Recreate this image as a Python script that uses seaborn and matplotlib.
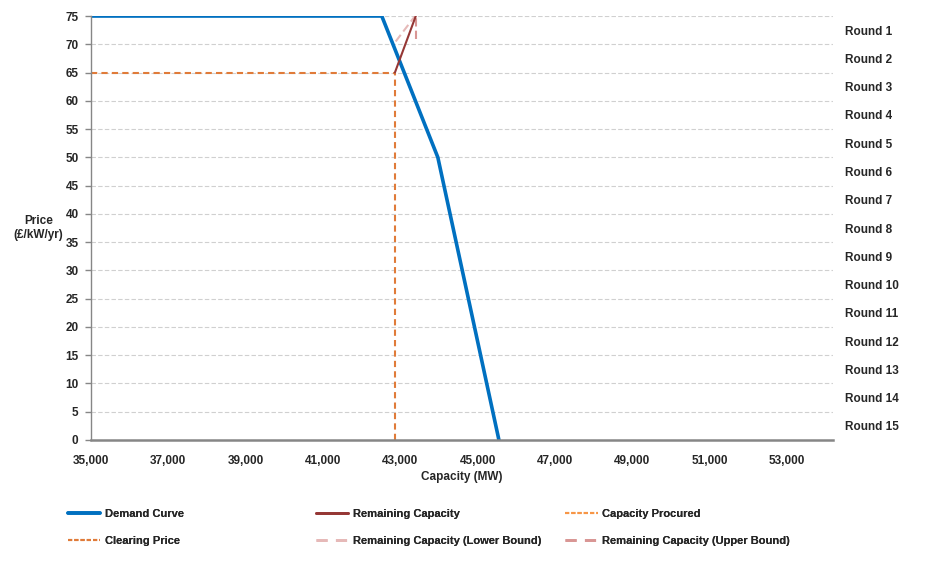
import matplotlib
matplotlib.use("Agg")
import matplotlib.pyplot as plt
import seaborn as sns
import pandas as pd
from matplotlib.lines import Line2D

sns.set_theme(style="white")
plt.rcParams['font.family'] = ['Liberation Sans', 'DejaVu Sans']

# Data
demand_x = [35000, 42520, 43970, 45550]
demand_y = [75, 75, 50, 0]
clearing_x = [35000, 42860]
clearing_y = [65, 65]
procured_x = [42860, 42860]
procured_y = [0, 65]
remaining_x = [42860, 43400]
remaining_y = [65, 75]
lower_x = [42880, 43380]
lower_y = [70.5, 75]
upper_x = [43400, 43400]
upper_y = [71, 75]
rounds = [f"Round {i}" for i in range(1, 16)]
x_ticks = [35000, 37000, 39000, 41000, 43000, 45000, 47000, 49000, 51000, 53000]
y_ticks = list(range(0, 80, 5))

fig = plt.figure(figsize=(9.44, 5.62), dpi=100)
ax = fig.add_axes([0.0964, 0.2171, 0.7860, 0.7544])

def draw(x, y, **kw):
    df = pd.DataFrame({"x": x, "y": y})
    sns.lineplot(data=df, x="x", y="y", ax=ax, sort=False, estimator=None, **kw)

c_blue = "#0070C0"
c_red = "#953735"
c_orange = "#E07B39"
c_orange2 = "#F79646"
c_lpink = "#E6B9B8"
c_pink = "#D99694"

draw(demand_x, demand_y, color=c_blue, lw=2.6)
draw(clearing_x, clearing_y, color=c_orange, lw=1.5, linestyle=(0, (3, 2)))
draw(procured_x, procured_y, color=c_orange, lw=1.5, linestyle=(0, (3, 2)))
draw(lower_x, lower_y, color=c_lpink, lw=1.5, linestyle=(0, (4, 2)))
draw(upper_x, upper_y, color=c_pink, lw=1.5, linestyle=(0, (4, 2)))
draw(remaining_x, remaining_y, color=c_red, lw=1.5)

ax.set_xlim(35000, 54190)
ax.set_ylim(0, 75)
ax.set_xticks(x_ticks)
ax.set_xticklabels([f"{v:,}" for v in x_ticks], fontsize=8.5, fontweight="bold")
ax.set_yticks(y_ticks)
ax.set_yticklabels([str(v) for v in y_ticks], fontsize=8.5, fontweight="bold")
ax.yaxis.grid(True, color="#D0D0D0", linestyle=(0, (4, 2)), lw=0.8)
ax.xaxis.grid(False)
for s in ["top", "right"]:
    ax.spines[s].set_visible(False)
ax.spines["left"].set_color("#868686")
ax.spines["left"].set_linewidth(1.0)
ax.spines["bottom"].set_color("#868686")
ax.spines["bottom"].set_linewidth(1.8)
ax.tick_params(axis="x", length=0, pad=11)
ax.tick_params(axis="y", length=4, width=1, color="#868686", direction="out", pad=5, left=True)
ax.set_xlabel("Capacity (MW)", fontsize=8.5, fontweight="bold", labelpad=3)
ax.set_ylabel("Price\n(£/kW/yr)", fontsize=8.5, fontweight="bold", rotation=0,
              ha="center", va="center")
ax.yaxis.set_label_coords(-0.071, 0.5)

ax2 = ax.twinx()
ax2.set_ylim(0, 75)
ax2.set_yticks([72.5 - 5 * i for i in range(15)])
ax2.set_yticklabels(rounds, fontsize=8.5, fontweight="bold")
ax2.tick_params(axis="y", length=0, pad=9)
for s in ["top", "right", "left", "bottom"]:
    ax2.spines[s].set_visible(False)
ax2.grid(False)

cols = [
    ([Line2D([], [], color=c_blue, lw=2.6),
      Line2D([], [], color=c_orange, lw=1.5, linestyle=(0, (2, 1)))],
     ["Demand Curve", "Clearing Price"], 0.072),
    ([Line2D([], [], color=c_red, lw=2),
      Line2D([], [], color=c_lpink, lw=2, linestyle=(0, (4, 3)))],
     ["Remaining Capacity", "Remaining Capacity (Lower Bound)"], 0.335),
    ([Line2D([], [], color=c_orange2, lw=1.5, linestyle=(0, (2, 1))),
      Line2D([], [], color=c_pink, lw=2, linestyle=(0, (4, 3)))],
     ["Capacity Procured", "Remaining Capacity (Upper Bound)"], 0.599),
]
for hs, ls, x0 in cols:
    leg = fig.legend(hs, ls, ncol=1, loc="upper left", bbox_to_anchor=(x0, 0.095),
                     frameon=False, handlelength=2.9, handletextpad=0.4,
                     labelspacing=1.55, borderaxespad=0, borderpad=0,
                     prop={"weight": "bold", "size": 8})
    fig.add_artist(leg)

fig.savefig("out.png", dpi=100)
